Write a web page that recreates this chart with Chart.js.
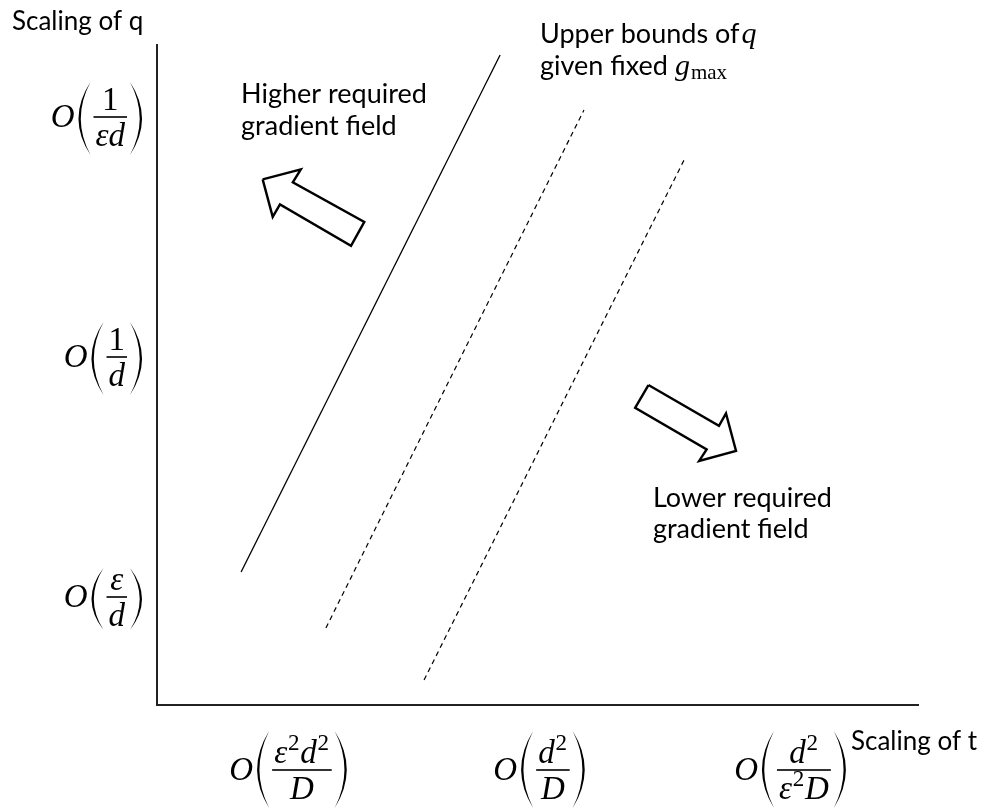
<!DOCTYPE html>
<html>
<head>
<meta charset="utf-8">
<script src="https://cdn.jsdelivr.net/npm/chart.js@4/dist/chart.umd.min.js"></script>
<style>
  html, body { margin: 0; padding: 0; background: #ffffff; }
  #c { display: block; }
</style>
</head>
<body>
<canvas id="c" width="987" height="812"></canvas>
<script>
// Order-of-magnitude tick positions on each axis and their labels
// (each label is O(numerator / denominator); "^" marks a superscript).
const tTickValues = [1, 2, 3];
const tTickLabels = [['ε^2d^2', 'D'], ['d^2', 'D'], ['d^2', 'ε^2D']];
const qTickValues = [1, 2, 3];
const qTickLabels = [['ε', 'd'], ['1', 'd'], ['1', 'εd']];

// Upper bound of q (solid) and two lower-field bounds (dashed), in axis units.
const boundSolidT = [0.813, 1.845];
const boundSolidQ = [1.104, 3.258];
const boundMidT = [1.151, 2.179];
const boundMidQ = [0.871, 3.029];
const boundLowT = [1.542, 2.578];
const boundLowQ = [0.654, 2.821];

// Block-arrow outlines, in axis units.
const arrowUpT = [0.899, 1.051, 1.019, 1.304, 1.251, 0.968, 0.939, 0.899];
const arrowUpQ = [2.740, 2.782, 2.728, 2.563, 2.463, 2.636, 2.584, 2.740];
const arrowDownT = [2.436, 2.717, 2.745, 2.785, 2.638, 2.668, 2.383, 2.436];
const arrowDownQ = [1.883, 1.713, 1.765, 1.609, 1.567, 1.615, 1.788, 1.883];

const SANS = '"Lato", "Open Sans", sans-serif';
const SERIF = '"Liberation Serif", "DejaVu Serif", serif';

function pts(xs, ys) { return xs.map((x, i) => ({ x: x, y: ys[i] })); }

// ---- small math typesetting helpers ----
function mathTokens(str, size) {
  const toks = [];
  for (let i = 0; i < str.length; i++) {
    let ch = str[i], sup = false;
    if (ch === '^') { sup = true; ch = str[++i]; }
    const digit = /[0-9]/.test(ch);
    const s = sup ? size * 0.7 : size;
    toks.push({ ch: ch, font: (digit ? '' : 'italic ') + s + 'px ' + SERIF,
                dy: sup ? -size * 0.38 : 0, pad: sup ? 1.5 : 0 });
  }
  return toks;
}
function measureTokens(ctx, toks) {
  let w = 0, asc = 0;
  for (const t of toks) {
    ctx.font = t.font;
    const m = ctx.measureText(t.ch);
    t.w = m.width + t.pad; w += t.w;
    asc = Math.max(asc, m.actualBoundingBoxAscent - t.dy);
  }
  return { w: w, asc: asc };
}
function drawTokens(ctx, toks, x, y) {
  for (const t of toks) { ctx.font = t.font; ctx.fillText(t.ch, x + t.pad * 0.5, y + t.dy); x += t.w; }
}
function paren(ctx, x, top, bottom, w, left) {
  const mid = (top + bottom) / 2, t = 2.3;
  ctx.beginPath();
  if (left) {
    ctx.moveTo(x + w, top);
    ctx.quadraticCurveTo(x - w, mid, x + w, bottom);
    ctx.quadraticCurveTo(x - w + 2 * t, mid, x + w, top);
  } else {
    ctx.moveTo(x - w, top);
    ctx.quadraticCurveTo(x + w, mid, x - w, bottom);
    ctx.quadraticCurveTo(x + w - 2 * t, mid, x - w, top);
  }
  ctx.closePath();
  ctx.fill();
}
function drawMathLabel(ctx, spec, ax, bar, align) {
  const F = 33;
  const O = mathTokens('O', F), num = mathTokens(spec[0], F), den = mathTokens(spec[1], F);
  const mo = measureTokens(ctx, O), mn = measureTokens(ctx, num), md = measureTokens(ctx, den);
  const fw = Math.max(mn.w, md.w) + 4;
  const pw = 12, g0 = 4, g1 = 3;
  const total = mo.w + g0 + pw + g1 + fw + g1 + pw;
  let x = align === 'right' ? ax - total : ax - total / 2;
  ctx.fillStyle = '#000';
  drawTokens(ctx, O, x, bar + 10);
  x += mo.w + g0;
  const numBase = bar - 7;
  const top = Math.max(numBase - mn.asc - 6, bar - 39);
  const bottom = bar + Math.min(38, (bar - top) + 4);
  paren(ctx, x, top, bottom, pw, true);
  x += pw + g1;
  ctx.fillRect(x, bar - 0.8, fw, 1.6);
  drawTokens(ctx, num, x + (fw - mn.w) / 2, numBase);
  drawTokens(ctx, den, x + (fw - md.w) / 2, bar + 29);
  x += fw + g1;
  paren(ctx, x + pw, top, bottom, pw, false);
}
function drawRuns(ctx, x, y, runs) {
  for (const r of runs) {
    ctx.font = r.font;
    ctx.fillText(r.text, x, y + (r.dy || 0));
    x += ctx.measureText(r.text).width + (r.after || 0);
  }
}

// Axis labels drawn as math, plus the text notes
const mathAxes = {
  id: 'mathAxes',
  afterDraw(chart) {
    const ctx = chart.ctx, xs = chart.scales.x, ys = chart.scales.y, area = chart.chartArea;
    ctx.save();
    ctx.textBaseline = 'alphabetic';
    ctx.textAlign = 'left';
    ctx.fillStyle = '#000';
    tTickValues.forEach((v, i) => drawMathLabel(ctx, tTickLabels[i], xs.getPixelForValue(v), area.bottom + 65, 'center'));
    qTickValues.forEach((v, i) => drawMathLabel(ctx, qTickLabels[i], area.left - 15, ys.getPixelForValue(v), 'right'));

    ctx.fillStyle = '#000';
    // axis titles
    drawRuns(ctx, area.left - 145, area.top - 15, [{ text: 'Scaling of q', font: '26px ' + SANS }]);
    drawRuns(ctx, area.right - 67, area.bottom + 45, [{ text: 'Scaling of t', font: '26px ' + SANS }]);

    // notes
    const f = '27px ' + SANS;
    let px = xs.getPixelForValue(0.813), py = ys.getPixelForValue(3.058);
    drawRuns(ctx, px, py, [{ text: 'Higher required', font: f }]);
    drawRuns(ctx, px, py + 32, [{ text: 'gradient field', font: f }]);

    px = xs.getPixelForValue(2.454); py = ys.getPixelForValue(1.375);
    drawRuns(ctx, px, py, [{ text: 'Lower required', font: f }]);
    drawRuns(ctx, px, py + 31, [{ text: 'gradient field', font: f }]);

    px = xs.getPixelForValue(2.004); py = ys.getPixelForValue(3.308);
    drawRuns(ctx, px, py, [{ text: 'Upper bounds of', font: f, after: 2 }, { text: 'q', font: 'italic 30px ' + SERIF }]);
    drawRuns(ctx, px, py + 32, [
      { text: 'given fixed ', font: f },
      { text: 'g', font: 'italic 30px ' + SERIF, after: 1 },
      { text: 'max', font: '21px ' + SERIF, dy: 4 }
    ]);
    ctx.restore();
  }
};

const axisLine = { display: true, color: '#222222', width: 2 };
const hiddenGrid = { display: false, drawTicks: false, tickLength: 0 };

new Chart(document.getElementById('c'), {
  type: 'scatter',
  data: {
    datasets: [
      { data: pts(boundSolidT, boundSolidQ), showLine: true, borderColor: '#000', borderWidth: 1.3, pointRadius: 0 },
      { data: pts(boundMidT, boundMidQ), showLine: true, borderColor: '#000', borderWidth: 1.2, borderDash: [5, 4], pointRadius: 0 },
      { data: pts(boundLowT, boundLowQ), showLine: true, borderColor: '#000', borderWidth: 1.2, borderDash: [5, 4], pointRadius: 0 },
      { data: pts(arrowUpT, arrowUpQ), showLine: true, borderColor: '#000', borderWidth: 2.4, borderJoinStyle: 'miter', pointRadius: 0, tension: 0 },
      { data: pts(arrowDownT, arrowDownQ), showLine: true, borderColor: '#000', borderWidth: 2.4, borderJoinStyle: 'miter', pointRadius: 0, tension: 0 }
    ]
  },
  options: {
    responsive: false,
    devicePixelRatio: 1,
    animation: false,
    layout: { padding: { left: 157, right: 69, top: 45, bottom: 107 } },
    plugins: { legend: { display: false }, tooltip: { enabled: false } },
    scales: {
      x: {
        type: 'linear', position: 'bottom', min: 0.478, max: 3.510,
        grid: hiddenGrid, border: axisLine, ticks: { display: false },
        afterFit(s) { s.height = 0; }
      },
      y: {
        type: 'linear', position: 'left', min: 0.55, max: 3.3,
        grid: hiddenGrid, border: axisLine, ticks: { display: false },
        afterFit(s) { s.width = 0; }
      }
    }
  },
  plugins: [mathAxes]
});
</script>
</body>
</html>
